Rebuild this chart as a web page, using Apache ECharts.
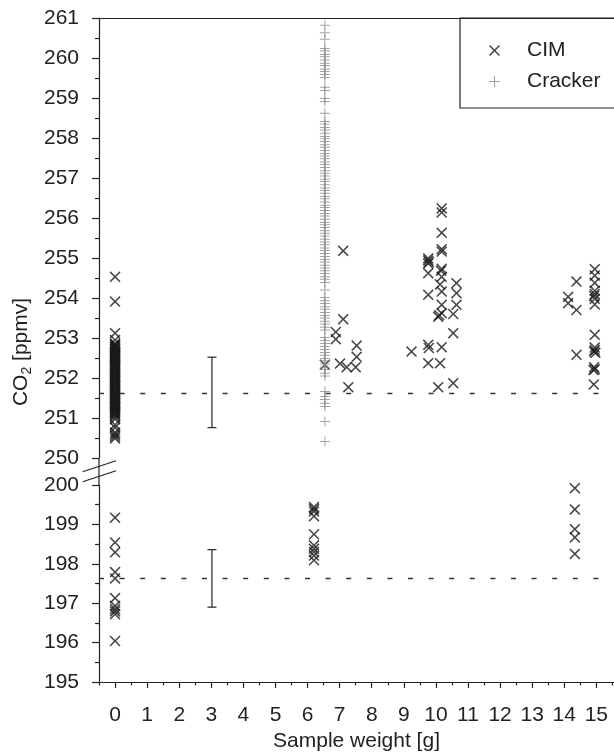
<!DOCTYPE html>
<html>
<head>
<meta charset="utf-8">
<script src="https://cdn.jsdelivr.net/npm/echarts@6/dist/echarts.min.js"></script>
<style>
html,body{margin:0;padding:0;background:#fff;}
#chart{width:614px;height:753px;}
</style>
</head>
<body>
<div id="chart"></div>
<script>
// ---------------- data ----------------
const xTicks = [0,1,2,3,4,5,6,7,8,9,10,11,12,13,14,15];
const xHalfTicks = [-0.5,0.5,1.5,2.5,3.5,4.5,5.5,6.5,7.5,8.5,9.5,10.5,11.5,12.5,13.5,14.5,15.5];
const yTicksUpper = [250,251,252,253,254,255,256,257,258,259,260,261];
const yTicksLower = [195,196,197,198,199,200];

// CIM, sample weight 0 g (upper range)
const cimCol0X = 0;
const cimCol0Upper = [254.53, 253.91, 253.12, 252.95, 252.86, 252.84, 252.81, 252.79, 252.77, 252.74, 252.71, 252.69,
  252.66, 252.63, 252.61, 252.57, 252.55, 252.52, 252.49, 252.47, 252.44, 252.41, 252.38, 252.35, 252.33, 252.31,
  252.28, 252.26, 252.22, 252.19, 252.17, 252.14, 252.11, 252.08, 252.05, 252.02, 251.99, 251.96, 251.93, 251.91,
  251.88, 251.86, 251.83, 251.80, 251.78, 251.74, 251.72, 251.69, 251.65, 251.63, 251.61, 251.58, 251.56, 251.53,
  251.50, 251.47, 251.45, 251.43, 251.39, 251.37, 251.34, 251.31, 251.30, 251.27, 251.25, 251.21, 251.19, 251.16,
  251.14, 251.12, 251.09, 251.07, 251.02, 250.97, 250.83, 250.76, 250.64, 250.59, 250.54, 250.49];
// CIM, sample weight 0 g (lower range)
const cimCol0Lower = [199.17, 198.54, 198.29, 197.79, 197.63, 197.13, 196.93, 196.85, 196.79, 196.72, 196.04];
// CIM, ~6.2 g (lower range)
const cimCol6X = 6.2;
const cimCol6Lower = [199.44, 199.39, 199.33, 199.21, 198.75, 198.47, 198.38, 198.30, 198.21, 198.09];
// CIM, ~14.3 g (lower range)
const cimCol14X = 14.33;
const cimCol14Lower = [199.92, 199.38, 198.88, 198.67, 198.25];

// CIM, other weights (upper range): [weight, CO2]
const cimUpperPoints = [
  [7.11,255.18],[7.11,253.47],[6.88,253.15],[6.88,252.97],[6.54,252.33],[7.01,252.36],[7.22,252.27],
  [7.50,252.27],[7.53,252.81],[7.53,252.53],[7.27,251.77],
  [10.18,256.24],[10.18,256.14],[10.18,255.63],[10.18,255.22],[10.18,255.16],[9.76,254.99],[9.76,254.94],
  [9.78,254.90],[9.76,254.86],[9.76,254.62],[10.18,254.73],[10.16,254.68],[10.18,254.53],[10.13,254.34],
  [10.18,254.16],[9.76,254.08],[10.64,254.37],[10.64,254.12],[10.18,253.83],[10.18,253.62],[10.07,253.53],
  [10.10,253.57],[10.64,253.83],[10.54,253.60],[10.54,253.12],[9.24,252.66],[9.76,252.83],[9.78,252.75],
  [10.18,252.77],[9.76,252.37],[10.13,252.37],[10.07,251.77],[10.54,251.87],
  [14.38,254.41],[14.12,254.03],[14.12,253.87],[14.38,253.70],[14.38,252.58],
  [14.95,254.72],[14.95,254.56],[14.95,254.38],[14.95,254.18],[14.95,254.10],[14.93,254.05],[14.95,253.98],
  [14.95,253.84],[14.95,253.08],[14.95,252.76],[14.95,252.70],[14.93,252.66],[14.97,252.63],[14.93,252.27],
  [14.95,252.22],[14.91,252.20],[14.92,251.84]
];

// Cracker, ~6.5 g
const crackerX = 6.54;
const crackerValues = [260.82, 260.63, 260.47, 260.24, 260.18, 260.09, 260.03, 259.95, 259.87, 259.81, 259.72, 259.66,
  259.59, 259.51, 259.27, 259.19, 258.99, 258.91, 258.62, 258.41, 258.35, 258.26, 258.20, 258.12, 258.04, 257.98,
  257.91, 257.83, 257.77, 257.69, 257.61, 257.55, 257.48, 257.40, 257.34, 257.26, 257.18, 257.12, 257.05, 256.97,
  256.91, 256.83, 256.75, 256.69, 256.62, 256.54, 256.48, 256.40, 256.32, 256.26, 256.19, 256.11, 256.05, 255.97,
  255.89, 255.83, 255.76, 255.68, 255.62, 255.55, 255.47, 255.40, 255.33, 255.25, 255.19, 255.11, 255.04, 254.96,
  254.90, 254.82, 254.75, 254.68, 254.61, 254.53, 254.47, 254.39, 254.20, 254.01, 253.93, 253.86, 253.78, 253.72,
  253.64, 253.56, 253.50, 253.42, 253.35, 253.27, 253.20, 253.01, 252.94, 252.86, 252.79, 252.71, 252.64, 252.57,
  252.49, 252.43, 252.35, 252.27, 252.21, 252.12, 252.05, 251.66, 251.54, 251.46, 251.37, 251.29, 250.91, 250.41];

// mean lines and error bars: [weight, low, high]
const meanUpper = 251.63;
const meanLower = 197.63;
const errUpper = [[3.02, 250.76, 252.52]];
const errLower = [[3.02, 196.90, 198.36]];

// ---------------- chart ----------------
const FONT = "'Liberation Sans', Arial, Helvetica, sans-serif";
const INK = '#222';
const X_MIN = -0.5, X_MAX = 15.55;
const crossPath = 'path://M0,10L10,0L50,40L90,0L100,10L60,50L100,90L90,100L50,60L10,100L0,90L40,50Z';
const plusPath = 'path://M45,0L55,0L55,45L100,45L100,55L55,55L55,100L45,100L45,55L0,55L0,45L45,45Z';

const chart = echarts.init(document.getElementById('chart'), null, {renderer: 'canvas'});

function errRender(params, api) {
  const x = api.value(0), lo = api.value(1), hi = api.value(2);
  const p1 = api.coord([x, hi]), p2 = api.coord([x, lo]);
  const w = 4.5;
  const st = {stroke: '#333', lineWidth: 1.3};
  return {type: 'group', children: [
    {type: 'line', shape: {x1: p1[0], y1: p1[1], x2: p2[0], y2: p2[1]}, style: st},
    {type: 'line', shape: {x1: p1[0] - w, y1: p1[1], x2: p1[0] + w, y2: p1[1]}, style: st},
    {type: 'line', shape: {x1: p2[0] - w, y1: p2[1], x2: p2[0] + w, y2: p2[1]}, style: st}
  ]};
}

const axisLineStyle = {color: INK, width: 1.2};
const meanLineStyle = {type: [5, 15.6], color: '#333', width: 1.3};

function yAxisCfg(grid, min, max, ticks) {
  return {
    gridIndex: grid, type: 'value', min: min, max: max, interval: 1,
    axisLine: {show: true, onZero: false, lineStyle: axisLineStyle},
    axisTick: {show: true, length: 7, lineStyle: axisLineStyle},
    minorTick: {show: true, splitNumber: 2, length: 4, lineStyle: axisLineStyle},
    axisLabel: {fontSize: 21, color: INK, fontFamily: FONT, margin: 20,
      formatter: v => (ticks.indexOf(v) >= 0 ? String(v) : '')},
    splitLine: {show: false}, minorSplitLine: {show: false}
  };
}

const option = {
  animation: false,
  backgroundColor: '#fff',
  textStyle: {fontFamily: FONT},
  grid: [
    {left: 99, top: 18, width: 515, height: 440},
    {left: 99, top: 485, width: 515, height: 200}
  ],
  xAxis: [
    {gridIndex: 0, type: 'value', min: X_MIN, max: X_MAX, position: 'top',
      axisLine: {show: true, onZero: false, lineStyle: axisLineStyle},
      axisTick: {show: false}, axisLabel: {show: false}, splitLine: {show: false}},
    {gridIndex: 1, type: 'value', min: X_MIN, max: X_MAX, position: 'bottom',
      axisLine: {show: true, onZero: false, lineStyle: axisLineStyle},
      axisTick: {show: true, length: 6, customValues: xTicks, lineStyle: axisLineStyle},
      axisLabel: {customValues: xTicks, fontSize: 21, color: INK, fontFamily: FONT, margin: 23},
      splitLine: {show: false},
      name: 'Sample weight [g]', nameLocation: 'middle', nameGap: 49,
      nameTextStyle: {fontSize: 21, color: INK, fontFamily: FONT}},
    {gridIndex: 1, type: 'value', min: X_MIN, max: X_MAX, position: 'bottom',
      axisLine: {show: false},
      axisTick: {show: true, length: 3.5, customValues: xHalfTicks, lineStyle: axisLineStyle},
      axisLabel: {show: false}, splitLine: {show: false}}
  ],
  yAxis: [
    yAxisCfg(0, 250, 261, yTicksUpper),
    yAxisCfg(1, 195, 200, yTicksLower)
  ],
  legend: {
    orient: 'vertical', left: 460, top: 18,
    padding: [22, 40, 16, 29],
    itemWidth: 11, itemHeight: 11, itemGap: 10,
    borderColor: INK, borderWidth: 1.2,
    textStyle: {fontSize: 21, color: INK, fontFamily: FONT, lineHeight: 20, padding: [0, 0, 0, 22]},
    data: ['CIM', 'Cracker']
  },
  series: [
    {name: 'CIM', type: 'scatter', xAxisIndex: 0, yAxisIndex: 0,
      symbol: crossPath, symbolSize: 11, itemStyle: {color: '#1a1a1a'},
      data: cimCol0Upper.map(v => [cimCol0X, v]).concat(cimUpperPoints),
      markLine: {silent: true, symbol: ['none', 'none'], label: {show: false}, lineStyle: meanLineStyle,
        data: [{yAxis: meanUpper}], animation: false}},
    {name: 'Cracker', type: 'scatter', xAxisIndex: 0, yAxisIndex: 0,
      symbol: plusPath, symbolSize: 10, itemStyle: {color: '#8c8c8c'},
      data: crackerValues.map(v => [crackerX, v])},
    {name: 'CIM', type: 'scatter', xAxisIndex: 1, yAxisIndex: 1,
      symbol: crossPath, symbolSize: 11, itemStyle: {color: '#1a1a1a'},
      data: cimCol0Lower.map(v => [cimCol0X, v])
        .concat(cimCol6Lower.map(v => [cimCol6X, v]))
        .concat(cimCol14Lower.map(v => [cimCol14X, v])),
      markLine: {silent: true, symbol: ['none', 'none'], label: {show: false}, lineStyle: meanLineStyle,
        data: [{yAxis: meanLower}], animation: false}},
    {type: 'custom', xAxisIndex: 0, yAxisIndex: 0, data: errUpper, renderItem: errRender,
      encode: {x: 0, y: [1, 2]}, silent: true},
    {type: 'custom', xAxisIndex: 1, yAxisIndex: 1, data: errLower, renderItem: errRender,
      encode: {x: 0, y: [1, 2]}, silent: true}
  ],
  graphic: [
    {type: 'line', shape: {x1: 99, y1: 458, x2: 99, y2: 485}, style: {stroke: INK, lineWidth: 1.2}},
    {type: 'line', shape: {x1: 82.7, y1: 471.7, x2: 116, y2: 460.7}, style: {stroke: INK, lineWidth: 1.2}},
    {type: 'line', shape: {x1: 82.7, y1: 481.7, x2: 116, y2: 470.7}, style: {stroke: INK, lineWidth: 1.2}},
    {type: 'text', x: 21, y: 352, rotation: Math.PI / 2,
      style: {
        text: '{a|CO}{s|2}{a| [ppmv]}',
        align: 'center', verticalAlign: 'middle', fill: INK,
        rich: {
          a: {fontSize: 21, fontFamily: FONT, lineHeight: 26, verticalAlign: 'middle', fill: INK},
          s: {fontSize: 14, fontFamily: FONT, lineHeight: 14, verticalAlign: 'bottom', fill: INK}
        }
      }}
  ]
};
chart.setOption(option);
</script>
</body>
</html>
